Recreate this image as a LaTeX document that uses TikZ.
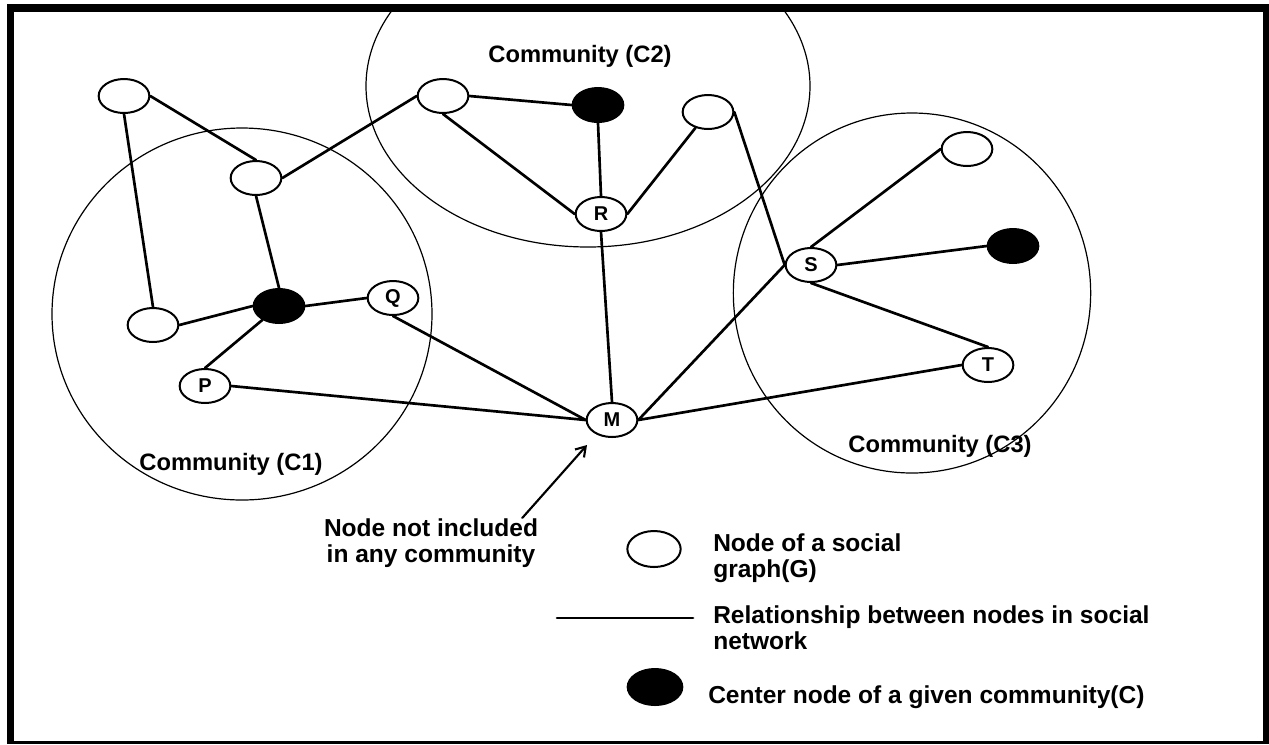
\documentclass[tikz,border=0pt]{standalone}
\usepackage{fontspec}
\setmainfont{Liberation Sans}
\usetikzlibrary{shapes.geometric,arrows.meta}

\begin{document}
\begin{tikzpicture}
		[x=0.75pt,y=-0.75pt,line cap=round,
		%Styles
		member/.style={ellipse,draw,line width=1.5pt,fill=white,minimum width=38pt,minimum height=25.5pt,inner sep=0pt,font=\fontsize{15}{15}\selectfont\bfseries},
		hub/.style={member,fill=black},
		link/.style={line width=2pt},
		community/.style={line width=0.9pt},
		community text/.style={font=\fontsize{17.8}{21}\selectfont\bfseries,anchor=base,inner sep=0pt},
		information text/.style={font=\fontsize{18.4}{19.5}\selectfont\bfseries,align=left,anchor=base west,inner sep=0pt},
		>={Straight Barb[length=7pt,width=9pt]}
		]
		
		%Frame
		\useasboundingbox (0,0) rectangle (1269,744);
		\fill[black] (7,4) rectangle (1269,744);
		\fill[white] (14,12) rectangle (1263,741);
		
		%Communities
		\begin{scope}
			\clip (14,12) rectangle (1263,741);
			\draw[community] (242,314) ellipse [x radius=142.5pt, y radius=139.5pt];
			\draw[community] (588,86) ellipse [x radius=166.5pt, y radius=120.75pt];
			\draw[community] (912,293) ellipse [x radius=134pt, y radius=135pt];
		\end{scope}
		\node[community text] (c1) at (231,470) {Community (C1)};
		\node[community text] (c2) at (580,62) {Community (C2)};
		\node[community text] (c3) at (940,452) {Community (C3)};
		
		%The graphic
		\node[member] (a) at (124,96) {};
		\node[member] (b) at (256,178) {};
		\node[member] (lone) at (153,325) {};
		\node[hub] (hub1) at (279,306) {};
		\node[member] (q) at (393,298) {Q};
		\node[member] (p) at (205,386) {P};
		\node[member] (c) at (443,96) {};
		\node[hub] (hub2) at (598,105) {};
		\node[member] (d) at (708,112) {};
		\node[member] (r) at (601,214) {R};
		\node[member] (m) at (612,420) {M};
		\node[member] (s) at (811,265) {S};
		\node[member] (e) at (967,149) {};
		\node[hub] (hub3) at (1013,246) {};
		\node[member] (t) at (988,365) {T};
		
		\draw[link] (a.east) -- (b.north);
		\draw[link] (a.south) -- (lone.north);
		\draw[link] (b.east) -- (c.west);
		\draw[link] (b.south) -- (hub1.north);
		\draw[link] (lone.east) -- (hub1.west);
		\draw[link] (hub1.east) -- (q.west);
		\draw[link] (hub1) -- (p.north);
		\draw[link] (q.south) -- (m.west);
		\draw[link] (p.east) -- (m.west);
		\draw[link] (c.east) -- (hub2.west);
		\draw[link] (c.south) -- (r.west);
		\draw[link] (hub2.south) -- (r.north);
		\draw[link] (d) -- (r.east);
		\draw[link] (d.east) -- (s.west);
		\draw[link] (r.south) -- (m.north);
		\draw[link] (m.east) -- (s.west);
		\draw[link] (m.east) -- (t.west);
		\draw[link] (s.north) -- (e.west);
		\draw[link] (s.east) -- (hub3.west);
		\draw[link] (s.south) -- (t.north);
		
		%Note
		\node[information text,align=center,anchor=base] (note) at (431,562) {Node not included\\in any community};
		\coordinate (pointer) at (587,445);
		\draw[->,line width=1.6pt] ([xshift=-12pt]note.north east) -- (pointer);
		
		%Legend
		\node[member,minimum width=40pt,minimum height=27pt] (keynode) at (654,549) {};
		\coordinate (keyleft) at (557,618);
		\coordinate (keyright) at (693,618);
		\draw[link] (keyleft) -- (keyright);
		\node[hub,minimum width=41pt,minimum height=27pt] (keyhub) at (655,687) {};
		\node[information text] (keynodetext) at (713,577) {Node of a social\\graph(G)};
		\node[information text] (keylinktext) at (713,649) {Relationship between nodes in social\\network};
		\node[information text] (keyhubtext) at (708,703) {Center node of a given community(C)};
	\end{tikzpicture}
\end{document}
